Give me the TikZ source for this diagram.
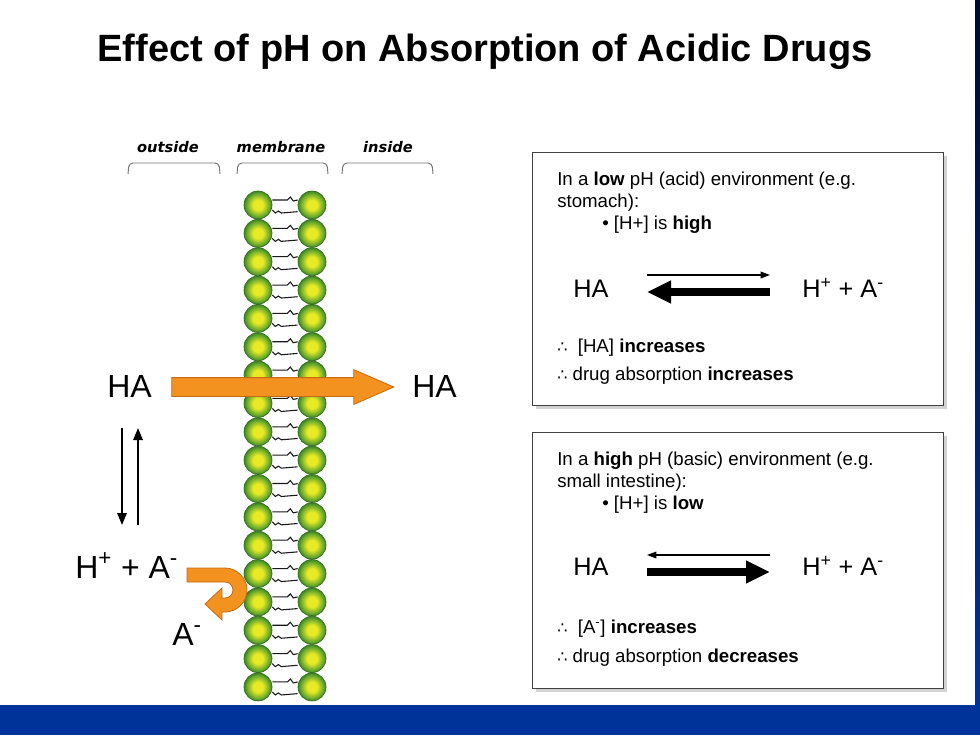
\documentclass[tikz,border=0pt]{standalone}
\usepackage{fontspec}
\setmainfont{Liberation Sans}
\newfontfamily\symfont{DejaVu Sans}
\usetikzlibrary{arrows.meta, positioning, shapes.arrows, shadows}
\definecolor{barblue}{HTML}{003399}
\definecolor{navy}{HTML}{000A30}
\definecolor{drugorange}{HTML}{F3921E}
\definecolor{drugedge}{HTML}{C46A12}
\definecolor{headgreen}{HTML}{4A9A2C}
\definecolor{headyellow}{HTML}{E8EA26}
\pgfdeclareradialshading{lipidball}{\pgfpointorigin}{color(0bp)=(headyellow); color(9bp)=(headyellow); color(21bp)=(headgreen!85!headyellow); color(25bp)=(headgreen!85!black); color(50bp)=(headgreen!85!black)}
\tikzset{
  lipid/.style={circle, inner sep=0pt, minimum size=21pt, shading=lipidball, draw=headgreen!70!black, line width=0.5pt},
  tail/.style={black!90, line width=0.8pt},
  bracket/.style={black!55, line width=0.7pt, rounded corners=3pt},
  collabel/.style={font=\symfont\bfseries\itshape\fontsize{11}{13}\selectfont},
  big/.style={font=\fontsize{24}{28}\selectfont, inner sep=0pt},
  mid/.style={font=\fontsize{19}{22}\selectfont, inner sep=0pt, anchor=base west},
  boxtext/.style={font=\fontsize{14}{16.5}\selectfont, inner sep=0pt, anchor=base west},
  panel/.style={draw=black!75, line width=1pt, fill=white, anchor=north west, inner sep=0pt,
    drop shadow={shadow xshift=2.5pt, shadow yshift=-2.5pt, opacity=0.35}},
  thinarrow/.style={-{Triangle[length=7pt, width=5pt]}, line width=0.9pt},
  thickarrow/.style={-{Triangle[length=18pt, width=16pt]}, line width=6pt},
  eqarrow/.style={-{Triangle[length=9pt, width=7pt]}, line width=1.5pt},
}
\newcommand{\therefor}{{\symfont\fontsize{12}{14}\selectfont ∴}}

\begin{document}
\begin{tikzpicture}[x=0.75pt, y=-0.75pt]
  \useasboundingbox (0,0) rectangle (980,735);
  \fill[white] (0,0) rectangle (980,735);

  % title
  \node[font=\bfseries\fontsize{28.5}{34}\selectfont, anchor=base, inner sep=0pt] (title) at (485,62) {Effect of pH on Absorption of Acidic Drugs};

  % column labels and brackets
  \node[collabel] (outside) at (168,147) {outside};
  \node[collabel] (membrane) at (281,147) {membrane};
  \node[collabel] (inside) at (388,147) {inside};
  \draw[bracket] (128,174) -- (129,163) -- (219,163) -- (220,174);
  \draw[bracket] (237,174) -- (238,163) -- (327,163) -- (328,174);
  \draw[bracket] (342,174) -- (343,163) -- (432,163) -- (433,174);

  % membrane
  \foreach \i in {0,...,17}{
    \pgfmathsetmacro\yy{205+28.35*\i}
    \node[lipid] (l\i) at (258,\yy) {};
    \node[lipid] (r\i) at (312,\yy) {};
    \draw[tail] ([yshift=3.75pt]l\i.east) -- ++(15,0) -- ++(3,-3) -- ++(3,4) -- ([yshift=3.75pt]r\i.west);
    \draw[tail] ([yshift=-3.75pt]l\i.east) -- ++(3,3) -- ++(3,-2) -- ++(3,2) -- ([yshift=-5pt]r\i.west);
  }

  % passive diffusion of HA
  \node[big, anchor=base west] (haL) at (107,397) {HA};
  \node[big, anchor=base west] (haR) at (412,397) {HA};
  \node[single arrow, fill=drugorange, draw=drugedge, line width=0.6pt, inner sep=6.75pt,
    minimum height=166.5pt, single arrow head extend=6pt, single arrow tip angle=47] (pass) at (272,387) {};

  % dissociation on the outside
  \coordinate (eqtop) at (130,428);
  \coordinate (eqbot) at (130,525);
  \draw[eqarrow] ([xshift=-6pt]eqtop) -- ([xshift=-6pt]eqbot);
  \draw[eqarrow] ([xshift=6pt]eqbot) -- ([xshift=6pt]eqtop);
  \node[big, anchor=base west] (ionL) at (75,578) {H\textsuperscript{+} + A\textsuperscript{-}};
  \node[big, anchor=base west] (anion) at (172,645) {A\textsuperscript{-}};
  \filldraw[fill=drugorange, draw=drugedge, line width=0.6pt]
    (187,568) -- (225,568) .. controls (237,568) and (247,578) .. (247,590)
    .. controls (247,602) and (237,612) .. (225,612) -- (222,612) -- (222,620)
    -- (205,604) -- (222,588) -- (222,598) -- (225,598)
    .. controls (229.4,598) and (233,594.4) .. (233,590)
    .. controls (233,585.6) and (229.4,582) .. (225,582) -- (187,582) -- cycle;

  % low pH panel
  \node[panel, minimum width=308.25pt, minimum height=189.75pt] (lowbox) at (532,152) {};
  \node[boxtext] (low1) at (557,185) {In a \textbf{low} pH (acid) environment (e.g.};
  \node[boxtext] (low2) at (557,207) {stomach):};
  \node[boxtext] (low3) at (602,229) {\textbullet\ [H+] is \textbf{high}};
  \node[mid] (lowHA) at (573,297) {HA};
  \node[mid] (lowion) at (802,297) {H\textsuperscript{+} + A\textsuperscript{-}};
  \coordinate (lowL) at (647,275);
  \coordinate (lowR) at (770,275);
  \draw[thinarrow] (lowL) -- (lowR);
  \draw[thickarrow] ([yshift=-12.75pt]lowR) -- ([yshift=-12.75pt]lowL);
  \node[boxtext] (low4) at (557,352) {\therefor\ \ [HA] \textbf{increases}};
  \node[boxtext] (low5) at (557,380) {\therefor\ drug absorption \textbf{increases}};

  % high pH panel
  \node[panel, minimum width=308.25pt, minimum height=192pt] (highbox) at (532,432) {};
  \node[boxtext] (high1) at (557,465) {In a \textbf{high} pH (basic) environment (e.g.};
  \node[boxtext] (high2) at (557,487) {small intestine):};
  \node[boxtext] (high3) at (602,509) {\textbullet\ [H+] is \textbf{low}};
  \node[mid] (highHA) at (573,575) {HA};
  \node[mid] (highion) at (802,575) {H\textsuperscript{+} + A\textsuperscript{-}};
  \coordinate (highL) at (647,555);
  \coordinate (highR) at (770,555);
  \draw[thinarrow] (highR) -- (highL);
  \draw[thickarrow] ([yshift=-12.75pt]highL) -- ([yshift=-12.75pt]highR);
  \node[boxtext] (high4) at (557,633) {\therefor\ \ [A\textsuperscript{-}] \textbf{increases}};
  \node[boxtext] (high5) at (557,662) {\therefor\ drug absorption \textbf{decreases}};

  % slide frame
  \shade[top color=navy, bottom color=barblue] (975,0) rectangle (980,705);
  \fill[barblue] (0,705) rectangle (980,735);
\end{tikzpicture}
\end{document}
